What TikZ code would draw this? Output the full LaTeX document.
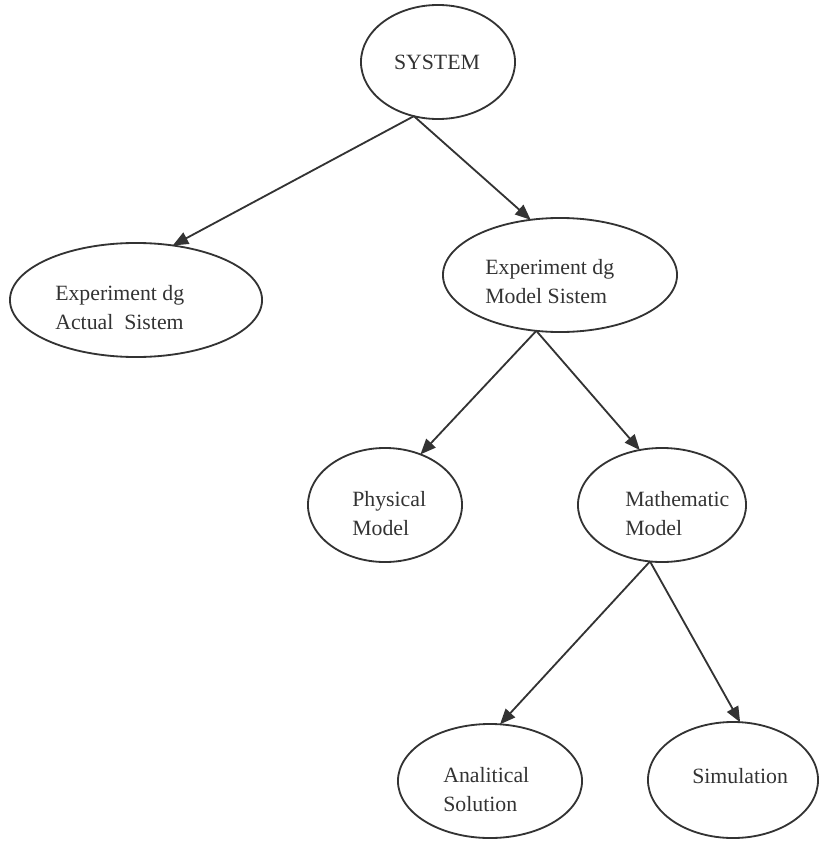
\documentclass[tikz,border=0pt]{standalone}
\usepackage{fontspec}
\setmainfont{Liberation Serif}
\usetikzlibrary{shapes.geometric,arrows.meta}
\definecolor{ink}{HTML}{333333}
\begin{document}
\begin{tikzpicture}[x=0.025cm,y=-0.025cm,
  oval/.style={ellipse, draw=ink, line width=1.3pt, inner sep=0pt, outer sep=0pt},
  radii/.style 2 args={minimum width={#1*0.05cm}, minimum height={#2*0.05cm}},
  lbl/.style={anchor=base west, align=left, inner sep=0pt, text=ink,
    font=\fontsize{15.5}{20}\selectfont},
  link/.style={draw=ink, line width=1.3pt, -{Triangle[length=11pt,width=9pt]}}]
  \useasboundingbox (0,0) rectangle (822,841);

  % ellipses
  \node[oval, radii={77}{57}]  (sys) at (438,62)  {};
  \node[oval, radii={126}{57}] (act) at (136,300) {};
  \node[oval, radii={117}{57}] (mod) at (560,275) {};
  \node[oval, radii={77}{57}]  (phy) at (385,505) {};
  \node[oval, radii={84}{57}]  (mat) at (662,505) {};
  \node[oval, radii={92}{57}]  (ana) at (490,781) {};
  \node[oval, radii={85}{58}]  (sim) at (733,780) {};

  % labels (anchored on the baseline of the last line)
  \node[lbl, anchor=base] (sysT) at (437,70) {SYSTEM};
  \node[lbl] (actT) at (55,329)  {Experiment dg\\Actual~ Sistem};
  \node[lbl] (modT) at (485,303) {Experiment dg\\Model Sistem};
  \node[lbl] (phyT) at (352,535) {Physical\\Model};
  \node[lbl] (matT) at (625,535) {Mathematic\\Model};
  \node[lbl] (anaT) at (443,811) {Analitical\\Solution};
  \node[lbl] (simT) at (692,783) {Simulation};

  % connectors
  \draw[link] (sys.246) -- (act.56);
  \draw[link] (sys.246) -- (mod.118);
  \draw[link] (mod.247) -- (phy.55);
  \draw[link] (mod.247) -- (mat.112);
  \draw[link] (mat.258) -- (ana.80);
  \draw[link] (mat.258) -- (sim.83);
\end{tikzpicture}
\end{document}
